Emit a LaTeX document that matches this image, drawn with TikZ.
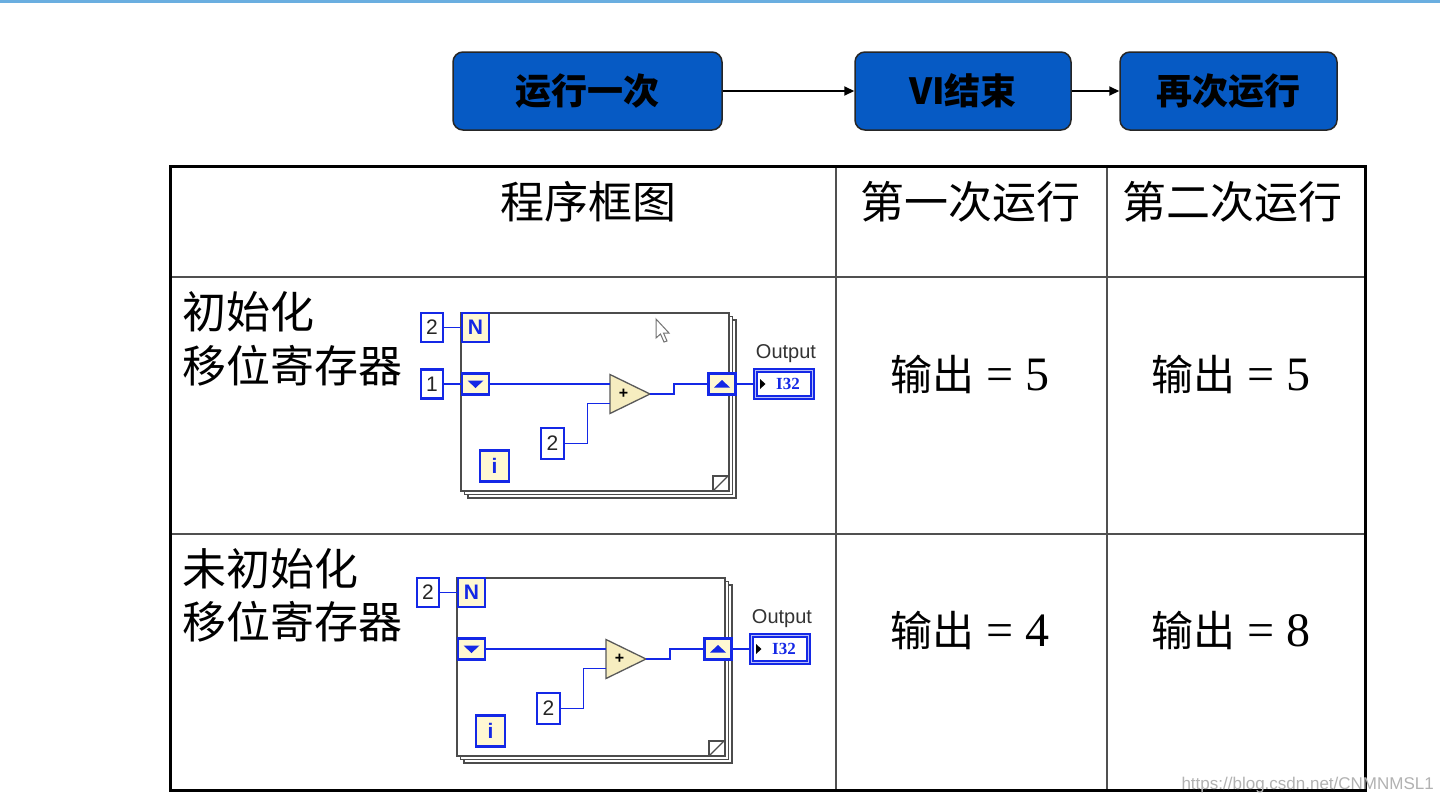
\documentclass[tikz,border=0pt]{standalone}
\usepackage{fontspec}
\setmainfont{Liberation Serif}
\setsansfont{Liberation Sans}
\newfontfamily\cjk{Noto Sans CJK SC}
\usetikzlibrary{arrows.meta,calc}
\definecolor{topline}{HTML}{6AAEE0}
\definecolor{boxblue}{HTML}{065AC4}
\definecolor{lvblue}{HTML}{1428E6}
\definecolor{lvyel}{HTML}{FFF8D2}
\definecolor{lvadd}{HTML}{F6EDC0}
\definecolor{gridgray}{HTML}{505050}
\tikzset{
  flowbox/.style={draw=black!85, line width=1.5pt, fill=boxblue, rounded corners=10pt,
    minimum height=78pt, inner sep=0pt, font=\cjk\bfseries\fontsize{36}{40}\selectfont, text=black},
  flowarrow/.style={line width=2pt, -{Triangle[length=10pt,width=9pt]}},
  outerline/.style={line width=3pt, black},
  innerline/.style={line width=1.6pt, gridgray},
  bigcjk/.style={font=\cjk\fontsize{44}{52}\selectfont, inner sep=0pt},
  valtext/.style={font=\fontsize{48}{52}\selectfont, inner sep=0pt, anchor=base},
  lvframe/.style={draw=black!70, line width=1.6pt, fill=white},
  lvthin/.style={draw=black!70, line width=1.2pt},
  lvterm/.style={draw=lvblue, line width=2.8pt, fill=lvyel, inner sep=0pt,
    minimum width=27pt, minimum height=29pt, text=lvblue,
    font=\sffamily\bfseries\fontsize{21}{21}\selectfont},
  lvconst/.style={draw=lvblue, line width=2.8pt, fill=white, inner sep=0pt,
    minimum width=22pt, minimum height=29pt, text=black!85,
    font=\sffamily\fontsize{21}{21}\selectfont},
  lvwire/.style={draw=lvblue, line width=1.6pt},
  lvind/.style={draw=lvblue, line width=2pt, fill=lvblue!30, inner sep=0pt,
    minimum width=60pt, minimum height=30pt},
}
\newcommand\lvdiag[3]{%
\begin{scope}[shift={(#2,#3)}]
  \draw[lvframe] (7,7) rectangle (275,185);
  \draw[lvframe] (3.5,3.5) rectangle (271.5,181.5);
  \draw[lvframe] (0,0) rectangle (268,178);
  \draw[lvthin] (252,178) -- (252,163) -- (268,163);
  \draw[lvthin] (252,178) -- (267,163);
  \node[lvconst] (#1c2) at (-29,14.5) {2};
  \node[lvterm] (#1n) at (14.5,14.5) {N};
  \node[lvterm, minimum height=21pt] (#1srl) at (14.5,71) {};
  \fill[lvblue] ($(#1srl.center)+(-8,-3.5)$) -- ++(16,0) -- ++(-8,7.5) -- cycle;
  \node[lvterm, minimum height=21pt] (#1srr) at (261,71) {};
  \fill[lvblue] ($(#1srr.center)+(-8,3.5)$) -- ++(16,0) -- ++(-8,-7.5) -- cycle;
  \node[lvconst, minimum width=23pt, minimum height=31pt] (#1c2b) at (91.5,130.5) {2};
  \node[lvterm, minimum width=29pt, minimum height=31pt] (#1i) at (33.5,153) {i};
  \coordinate (#1in1) at (149,71);
  \coordinate (#1in2) at (149,90.5);
  \coordinate (#1out) at (189,81);
  \filldraw[fill=lvadd, draw=black!65, line width=1.3pt] (149,61.5) -- (#1out) -- (149,100.5) -- cycle;
  \node[inner sep=0pt, font=\sffamily\bfseries\fontsize{16}{16}\selectfont] (#1plus) at (162.5,81) {+};
  \node[lvind] (#1ind) at (323,71) {};
  \draw[lvblue, line width=1.2pt, fill=white] ($(#1ind.north west)+(4,4)$) rectangle ($(#1ind.south east)+(-4,-4)$);
  \fill[black] ($(#1ind.west)+(7,-5)$) -- ++(5.5,5) -- ++(-5.5,5) -- cycle;
  \node[inner sep=0pt, text=lvblue, font=\rmfamily\bfseries\fontsize{17}{17}\selectfont] (#1ilab) at ($(#1ind.center)+(4,0)$) {I32};
  \node[inner sep=0pt, text=black!80, font=\sffamily\fontsize{20}{20}\selectfont] (#1olab) at (325,41) {Output};
  \draw[lvwire] (#1c2) -- (#1n);
  \draw[lvwire] (#1srl.east) -- (#1in1);
  \draw[lvwire] (#1c2b.east) -- ++(22,0) |- (#1in2);
  \draw[lvwire] (#1out) -- ++(24,0) |- (#1srr.west);
  \draw[lvwire] (#1srr.east) -- (#1ind.west);
\end{scope}}
\begin{document}
\begin{tikzpicture}[x=1pt, y=-1pt]
  \useasboundingbox[fill=white] (0,0) rectangle (1440,804);
  \fill[topline] (0,0) rectangle (1440,2.5);
  % flow boxes
  \node[flowbox, minimum width=269pt] (b1) at (587.5,91) {运行一次};
  \node[flowbox, minimum width=216pt] (b2) at (963,91) {VI结束};
  \node[flowbox, minimum width=217pt] (b3) at (1228.5,91) {再次运行};
  \draw[flowarrow] (b1) -- (b2);
  \draw[flowarrow] (b2) -- (b3);
  % table
  \draw[innerline] (170,277) -- (1365,277);
  \draw[innerline] (170,534) -- (1365,534);
  \draw[innerline] (836,166) -- (836,790);
  \draw[innerline] (1107,166) -- (1107,790);
  \draw[outerline] (170,166) rectangle (1365,790);
  % headers
  \node[bigcjk] (h1) at (588,202) {程序框图};
  \node[bigcjk] (h2) at (970,202) {第一次运行};
  \node[bigcjk] (h3) at (1232,202) {第二次运行};
  % row labels
  \node[bigcjk, anchor=west] (r1a) at (182,312) {初始化};
  \node[bigcjk, anchor=west] (r1b) at (182,366) {移位寄存器};
  \node[bigcjk, anchor=west] (r2a) at (182,569) {未初始化};
  \node[bigcjk, anchor=west] (r2b) at (182,622) {移位寄存器};
  % values
  \node[valtext] (v11) at (970,390) {{\cjk\fontsize{42}{48}\selectfont 输出} = 5};
  \node[valtext] (v12) at (1231,390) {{\cjk\fontsize{42}{48}\selectfont 输出} = 5};
  \node[valtext] (v21) at (970,646) {{\cjk\fontsize{42}{48}\selectfont 输出} = 4};
  \node[valtext] (v22) at (1231,646) {{\cjk\fontsize{42}{48}\selectfont 输出} = 8};
  % LabVIEW diagrams
  \lvdiag{d1}{461}{313}
  \node[lvconst] (d1c1) at (432,384) {1};
  \draw[lvwire] (d1c1) -- (d1srl);
  \filldraw[fill=white, draw=black!55, line width=1pt]
    (656,319) -- (656,338) -- (660.5,334) -- (664,342) -- (667,341) -- (663.5,333) -- (669,333) -- cycle;
  \lvdiag{d2}{457}{578}
  % watermark
  \node[anchor=east, inner sep=0pt, text=black!30, font=\sffamily\fontsize{17}{17}\selectfont] (wm) at (1434,785) {https://blog.csdn.net/CNMNMSL1};
\end{tikzpicture}
\end{document}
